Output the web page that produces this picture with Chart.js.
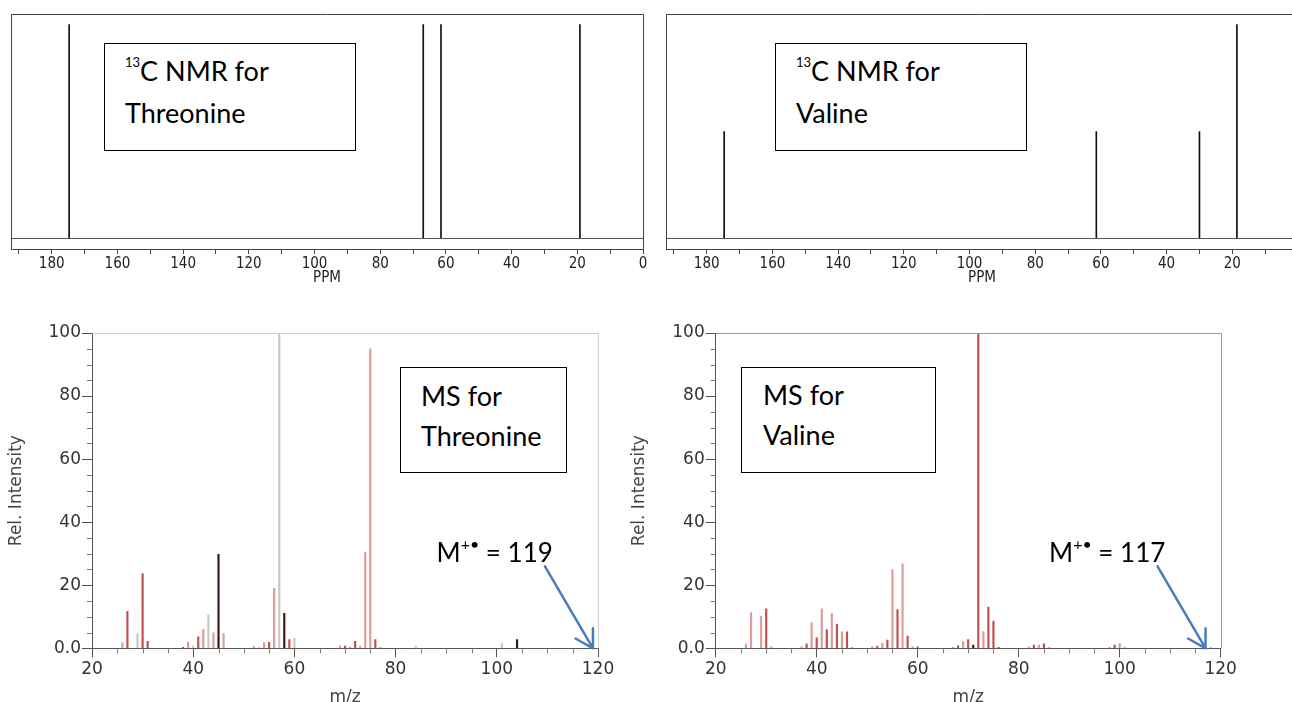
<!DOCTYPE html>
<html>
<head>
<meta charset="utf-8">
<script src="https://cdn.jsdelivr.net/npm/chart.js@4.4.1/dist/chart.umd.min.js"></script>
<style>
  html, body { margin: 0; padding: 0; background: #fff; }
  body { position: relative; width: 1292px; height: 702px; overflow: hidden; }
  canvas { position: absolute; }
  .box { position: absolute; border: 1px solid #000; background: #fff; box-sizing: border-box; }
  .txt { position: absolute; font-family: Lato, "Open Sans", sans-serif; font-size: 27px; line-height: 32px; color: #000; white-space: nowrap; }
  .txt.ion { font-size: 26px; }
  .sup13 { font-size: 13px; position: relative; top: -14px; }
  .supM { font-size: 16px; position: relative; top: -12px; }
</style>
</head>
<body>
<canvas id="nmrThr" width="660" height="300" style="left:0;top:0"></canvas>
<canvas id="nmrVal" width="660" height="300" style="left:655px;top:0"></canvas>
<canvas id="msThr" width="640" height="400" style="left:0;top:310px"></canvas>
<canvas id="msVal" width="672" height="400" style="left:620px;top:310px"></canvas>

<div class="box" style="left:104px;top:43px;width:252px;height:108px"></div>
<div class="txt" style="left:125px;top:55.3px"><span class="sup13">13</span>C NMR for</div>
<div class="txt" style="left:125px;top:96.9px">Threonine</div>

<div class="box" style="left:775px;top:43px;width:252px;height:108px"></div>
<div class="txt" style="left:796px;top:55.3px"><span class="sup13">13</span>C NMR for</div>
<div class="txt" style="left:796px;top:96.9px">Valine</div>

<div class="box" style="left:400px;top:367px;width:167px;height:106px"></div>
<div class="txt" style="left:421px;top:380.3px">MS for</div>
<div class="txt" style="left:421px;top:420.3px">Threonine</div>

<div class="box" style="left:741px;top:367px;width:195px;height:106px"></div>
<div class="txt" style="left:763px;top:379.3px">MS for</div>
<div class="txt" style="left:763px;top:419.3px">Valine</div>

<div class="txt ion" style="left:436.5px;top:535.6px">M<span class="supM">+&#8226;</span> = 119</div>
<div class="txt ion" style="left:1049px;top:535.6px">M<span class="supM">+&#8226;</span> = 117</div>

<script>
// ---- 13C NMR: chemical shifts (ppm) and relative peak heights ----
const thrShifts = [174.7, 66.9, 61.5, 19.2];
const thrNmrHeights = [1, 1, 1, 1];
const valShifts = [174.7, 61.4, 30.0, 18.6];
const valNmrHeights = [0.5, 0.5, 0.5, 1];

// ---- MS: m/z, relative intensity, and shade group of each stick ----
const thrMz = [26, 27, 29, 30, 31, 38, 39, 40, 41, 42, 43, 44, 45, 46, 52, 53, 54, 55, 56, 57, 58, 59, 60,
               69, 70, 71, 72, 73, 74, 75, 76, 77, 84, 101, 104];
const thrIntensity = [1.7, 11.7, 4.7, 23.7, 2.2, 0.3, 2.0, 0.7, 3.6, 6.0, 10.6, 4.9, 29.8, 4.7, 0.6, 0.3, 1.8, 1.9, 19.0, 100, 11.1, 2.8, 3.2,
                      0.8, 0.7, 0.4, 2.2, 0.7, 30.5, 95, 2.8, 0.3, 0.6, 1.5, 2.8];
const thrShade = ['p', 'r', 'g', 'r', 'r', 'r', 'p', 'g', 'r', 'p', 'g', 'p', 'd', 'p', 'p', 'g', 'p', 'r', 'p', 'g', 'd', 'r', 'g',
                  'p', 'r', 'p', 'r', 'p', 'p', 'p', 'r', 'p', 'g', 'g', 'd'];

const valMz = [26, 27, 29, 30, 31, 37, 38, 39, 40, 41, 42, 43, 44, 45, 46, 47, 51, 52, 53, 54, 55, 56, 57, 58, 59, 60,
               67, 68, 69, 70, 71, 72, 73, 74, 75, 76, 82, 83, 84, 85, 86, 98, 99, 100, 101, 118];
const valIntensity = [1.3, 11.3, 10.1, 12.5, 0.5, 0.5, 1.4, 8.1, 3.3, 12.5, 5.9, 11.0, 7.6, 5.2, 5.2, 0.3, 0.5, 0.7, 1.6, 2.6, 25.0, 12.3, 26.8, 3.9, 0.5, 0.5,
                      0.3, 0.8, 2.1, 2.8, 1.0, 100, 5.3, 13.1, 8.6, 0.3, 0.5, 1.0, 1.0, 1.4, 0.3, 0.3, 1.0, 1.6, 0.3, 0.2];
const valShade = ['p', 'p', 'p', 'r', 'p', 'p', 'r', 'p', 'r', 'p', 'r', 'p', 'r', 'p', 'r', 'p', 'p', 'r', 'p', 'r', 'p', 'r', 'p', 'r', 'p', 'r',
                  'p', 'r', 'p', 'r', 'd', 'r', 'p', 'r', 'r', 'r', 'p', 'r', 'p', 'r', 'p', 'p', 'r', 'p', 'p', 'p'];

const shadeColors = { r: '#c0504d', p: '#dc9c9c', g: '#c8c8c8', d: '#3a1515' };

const NMR_MAX = 192.4;
const NARROW = '"Liberation Sans Narrow", "DejaVu Sans Condensed", sans-serif';
const SANS = '"DejaVu Sans", sans-serif';

// frame round the plot area (all sides for NMR, top + right for MS)
const framePlugin = {
    id: 'frame',
    afterDraw(chart, args, opts) {
        const { ctx, chartArea: a } = chart;
        ctx.save();
        ctx.strokeStyle = opts.color;
        ctx.lineWidth = 1;
        ctx.beginPath();
        const l = Math.round(a.left) + 0.5, r = Math.round(a.right) + 0.5;
        const t = Math.round(a.top) + 0.5, b = Math.round(a.bottom) + 0.5;
        if (opts.all) {
            ctx.rect(l, t, r - l, b - t);
        } else {
            ctx.moveTo(l, t); ctx.lineTo(r, t); ctx.lineTo(r, b);
        }
        ctx.stroke();
        ctx.restore();
    }
};

// short minor ticks between the labelled ones
const minorTicksPlugin = {
    id: 'minorTicks',
    afterDraw(chart, args, opts) {
        const { ctx } = chart;
        const xs = chart.scales.x, ys = chart.scales.y;
        ctx.save();
        ctx.strokeStyle = opts.color;
        ctx.lineWidth = 1;
        ctx.beginPath();
        for (let v = xs.min; v <= xs.max; v += opts.step) {
            if (v % opts.major === 0) continue;
            const px = Math.round(xs.getPixelForValue(v)) + 0.5;
            ctx.moveTo(px, xs.top);
            ctx.lineTo(px, xs.top + opts.len);
        }
        for (let v = ys.min; v <= ys.max; v += opts.step) {
            if (v % opts.major === 0) continue;
            const py = Math.round(ys.getPixelForValue(v)) + 0.5;
            ctx.moveTo(ys.right, py);
            ctx.lineTo(ys.right - opts.len, py);
        }
        ctx.stroke();
        ctx.restore();
    }
};

// blue arrow pointing at the molecular ion position on the m/z axis
const arrowPlugin = {
    id: 'ionArrow',
    afterDraw(chart, args, opts) {
        const { ctx } = chart;
        const tx = chart.scales.x.getPixelForValue(opts.mass);
        const ty = chart.scales.y.getPixelForValue(0);
        const sx = tx + opts.dx, sy = ty + opts.dy;
        const ang = Math.atan2(sy - ty, sx - tx);
        ctx.save();
        ctx.strokeStyle = opts.color;
        ctx.lineWidth = 2.5;
        ctx.lineCap = 'round';
        ctx.beginPath();
        ctx.moveTo(sx, sy);
        ctx.lineTo(tx, ty);
        [-0.53, 0.53].forEach(d => {
            ctx.moveTo(tx, ty);
            ctx.lineTo(tx + 20 * Math.cos(ang + d), ty + 20 * Math.sin(ang + d));
        });
        ctx.stroke();
        ctx.restore();
    }
};

function drawNmr(id, shifts, heights) {
    return new Chart(document.getElementById(id), {
        type: 'bar',
        data: {
            datasets: [
                {
                    type: 'line',
                    data: [{ x: 0, y: 0 }, { x: NMR_MAX, y: 0 }],
                    borderColor: '#555',
                    borderWidth: 1,
                    pointRadius: 0
                },
                {
                    data: shifts.map((s, i) => ({ x: s, y: heights[i] })),
                    backgroundColor: '#111',
                    barThickness: 1,
                    grouped: false
                }
            ]
        },
        options: {
            responsive: false,
            animation: false,
            devicePixelRatio: 1,
            events: [],
            layout: { padding: { left: 11, top: 13.5, right: 17, bottom: 0 } },
            plugins: {
                legend: { display: false },
                tooltip: { enabled: false },
                frame: { color: '#444', all: true }
            },
            scales: {
                x: {
                    type: 'linear',
                    reverse: true,
                    min: 0,
                    max: NMR_MAX,
                    offset: false,
                    afterFit: s => { s.height = 300 - 249; },
                    grid: { drawOnChartArea: false, offset: false, tickLength: 5, color: '#444' },
                    border: { color: '#444' },
                    ticks: {
                        stepSize: 10,
                        includeBounds: false,
                        autoSkip: false,
                        maxRotation: 0,
                        padding: 1,
                        color: '#222',
                        font: { family: NARROW, size: 15 },
                        callback: v => (v % 20 === 0 ? String(v) : '')
                    },
                    title: {
                        display: true,
                        text: 'PPM',
                        color: '#222',
                        font: { family: NARROW, size: 15 },
                        padding: { top: 0, bottom: 13 }
                    }
                },
                y: { display: false, min: -0.049, max: 1.0514 }
            }
        },
        plugins: [framePlugin]
    });
}

function drawMs(id, mz, intensity, shade, cfg) {
    return new Chart(document.getElementById(id), {
        type: 'bar',
        data: {
            datasets: [{
                data: mz.map((m, i) => ({ x: m, y: intensity[i] })),
                backgroundColor: shade.map(s => shadeColors[s]),
                barThickness: 1.5
            }]
        },
        options: {
            responsive: false,
            animation: false,
            devicePixelRatio: 1,
            events: [],
            layout: { padding: { left: 0, top: 23, right: cfg.rightPad, bottom: 0 } },
            plugins: {
                legend: { display: false },
                tooltip: { enabled: false },
                frame: { color: cfg.frameColor, all: false },
                minorTicks: { step: 5, major: 20, len: 5, color: '#777' },
                ionArrow: { mass: cfg.mass, dx: -48, dy: -82, color: '#4a7ebb' }
            },
            scales: {
                x: {
                    type: 'linear',
                    min: 20,
                    max: 120,
                    offset: false,
                    afterFit: s => { s.height = 400 - 338.3; },
                    grid: { drawOnChartArea: false, offset: false, tickLength: 9, color: '#555' },
                    border: { color: '#555' },
                    ticks: { stepSize: 20, autoSkip: false, maxRotation: 0, padding: 2, color: '#333', font: { family: SANS, size: 17 } },
                    title: { display: true, text: 'm/z', color: '#444', font: { family: SANS, size: 17 }, padding: { top: 0, bottom: 2 } }
                },
                y: {
                    min: 0,
                    max: 100,
                    afterFit: s => { s.width = cfg.axisWidth; },
                    grid: { drawOnChartArea: false, tickLength: 10, color: '#555' },
                    border: { color: '#555' },
                    ticks: {
                        stepSize: 20,
                        padding: 1,
                        color: '#333',
                        font: { family: SANS, size: 17 },
                        callback: v => (v === 0 ? '0.0' : String(v))
                    },
                    title: { display: true, text: 'Rel. Intensity', color: '#444', font: { family: SANS, size: 17 }, padding: { top: cfg.titlePad, bottom: 0 } }
                }
            }
        },
        plugins: [framePlugin, minorTicksPlugin, arrowPlugin]
    });
}

drawNmr('nmrThr', thrShifts, thrNmrHeights);
drawNmr('nmrVal', valShifts, valNmrHeights);
drawMs('msThr', thrMz, thrIntensity, thrShade, { mass: 119, axisWidth: 92, rightPad: 42, titlePad: 6.5, frameColor: '#cfcfcf' });
drawMs('msVal', valMz, valIntensity, valShade, { mass: 117, axisWidth: 95.7, rightPad: 71.3, titlePad: 9.5, frameColor: '#999' });
</script>
</body>
</html>
